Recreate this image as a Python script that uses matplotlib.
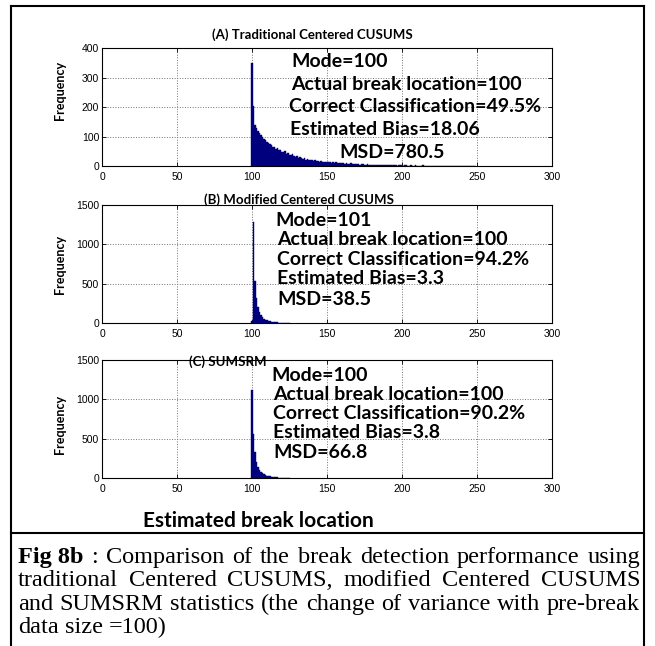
"""Fig 8b: histograms of estimated break location for three statistics."""

import matplotlib

matplotlib.use("Agg")
import matplotlib.pyplot as plt
from matplotlib.lines import Line2D
import numpy as np

W, H = 655, 646
NAVY = "#00007f"
NARROW = ["Lato", "Liberation Sans", "DejaVu Sans"]
SANS = ["Liberation Sans", "DejaVu Sans"]
SERIF = ["Liberation Serif", "DejaVu Serif"]

# counts per integer bin, first bin = 100
BIN_START = 100
COUNTS_A = [
    350, 205, 140, 128, 118, 112, 104, 98, 92, 88,
    82, 78, 74, 70, 66, 63, 58, 60, 53, 55,
    48, 46, 50, 41, 43, 38, 36, 40, 33, 31,
    35, 28, 30, 26, 25, 28, 22, 24, 20, 22,
    19, 18, 20, 16, 17, 15, 18, 14, 15, 13,
    14, 12, 15, 11, 12, 10, 13, 10, 9, 11,
    9, 10, 8, 9, 7, 8, 9, 6, 7, 8,
    6, 7, 5, 6, 7, 5, 4, 6, 5, 4,
    5, 4, 3, 5, 4, 3, 4, 3, 2, 4,
    3, 2, 3, 3, 2, 2, 3, 1, 2, 2,
    2, 1, 2, 2, 1, 1, 2, 1, 1, 2,
    1, 1, 0, 1, 2, 1, 0, 1, 1, 0,
    1, 0, 1, 1, 0, 1, 0, 0, 1, 0,
    0, 1, 0, 0, 1, 0, 0, 1, 0, 0,
    1, 0, 0, 0, 1, 0, 0, 0, 0, 1,
]
COUNTS_B = [30, 1280, 530, 320, 200, 140, 100, 72, 55, 42, 33, 26, 20,
            16, 13, 10, 8, 7, 5, 4, 3, 3, 2, 2, 1, 1]
COUNTS_C = [1120, 560, 330, 200, 140, 100, 75, 58, 45, 36, 30, 25, 20,
            16, 13, 11, 9, 7, 6, 5, 4, 3, 2, 2, 1, 1]

X_TICKS = [0, 50, 100, 150, 200, 250, 300]
Y_TICKS_A = [0, 100, 200, 300, 400]
Y_TICKS_BC = [0, 500, 1000, 1500]

TITLES = ["(A) Traditional Centered CUSUMS", "(B) Modified Centered CUSUMS",
          "(C) SUMSRM"]
STATS_A = ["Mode=100", "Actual break location=100",
           "Correct Classification=49.5%", "Estimated Bias=18.06", "MSD=780.5"]
STATS_B = ["Mode=101", "Actual break location=100",
           "Correct Classification=94.2%", "Estimated Bias=3.3", "MSD=38.5"]
STATS_C = ["Mode=100", "Actual break location=100",
           "Correct Classification=90.2%", "Estimated Bias=3.8", "MSD=66.8"]

CAPTION = [
    [("Fig 8b", True), (":", False), ("Comparison", False), ("of", False),
     ("the", False), ("break", False), ("detection", False),
     ("performance", False), ("using", False)],
    [(w, False) for w in "traditional Centered CUSUMS, modified Centered CUSUMS".split()],
    [(w, False) for w in "and SUMSRM statistics (the change of variance with pre-break".split()],
    [(w, False) for w in "data size =100)".split()],
]


def fx(x):
    return x / W


def fy(y):
    return 1 - y / H


fig = plt.figure(figsize=(W / 100, H / 100), dpi=100)

# panel boxes in pixels: top, bottom (left/right shared)
left, right = 102, 552
panels = [
    (48, 166, COUNTS_A, Y_TICKS_A),
    (205, 323, COUNTS_B, Y_TICKS_BC),
    (360, 478, COUNTS_C, Y_TICKS_BC),
]
for top, bottom, counts, yt in panels:
    ax = fig.add_axes([fx(left), fy(bottom), (right - left) / W, (bottom - top) / H])
    xs = np.arange(len(counts)) + BIN_START
    ax.bar(xs, counts, width=1.0, color=NAVY, edgecolor=NAVY, linewidth=0.3)
    ax.set_xlim(0, 300)
    ax.set_ylim(yt[0], yt[-1])
    ax.set_xticks(X_TICKS)
    ax.set_yticks(yt)
    ax.grid(True, ls=":", color="0.45", lw=0.7)
    ax.set_axisbelow(True)
    ax.tick_params(direction="in", length=3, width=0.6, top=True, right=True,
                   labelsize=7.5, pad=2, colors="black")
    ax.tick_params(axis="x", pad=4)
    for lab in ax.get_xticklabels() + ax.get_yticklabels():
        lab.set_family(SANS)
    for sp in ax.spines.values():
        sp.set_linewidth(0.8)

# titles
title_pos = [(312, 35), (299, 200), (228, 362)]
for t, (x, y) in zip(TITLES, title_pos):
    fig.text(fx(x), fy(y), t, ha="center", va="center", fontsize=9.5,
             fontweight="bold", family=NARROW)

# y labels
for y in (90, 264, 424):
    fig.text(fx(60), fy(y), "Frequency", rotation=90, ha="center", va="center",
             fontsize=9, fontweight="bold", family=NARROW)

# stats text: (x, baseline y)
stat_pos = [
    (STATS_A, [(291, 67), (291, 90), (289, 112), (290, 135), (339, 158)]),
    (STATS_B, [(275, 226), (277, 245), (277, 265), (277, 284), (277, 305)]),
    (STATS_C, [(271, 381), (273, 400), (273, 419), (273, 438), (273, 458)]),
]
for lines, pos in stat_pos:
    for s, (x, y) in zip(lines, pos):
        fig.text(fx(x), fy(y), s, ha="left", va="baseline", fontsize=14,
                 fontweight="bold", family=NARROW)

fig.text(fx(258), fy(527), "Estimated break location", ha="center",
         va="baseline", fontsize=15, fontweight="bold", family=NARROW)

# frame around figure and caption
for xs_, ys_ in [((11, 644), (6, 6)), ((11, 11), (6, 646)), ((644, 644), (6, 646)),
                 ((11, 644), (533, 533))]:
    fig.add_artist(Line2D([fx(v) for v in xs_], [fy(v) for v in ys_],
                          color="black", lw=1.5))

# justified caption
CAP_SIZE = 17.5
renderer = fig.canvas.get_renderer()
x0, x1 = 18, 640
baselines = [563, 586.5, 610, 633]
for i, (words, yb) in enumerate(zip(CAPTION, baselines)):
    texts = [fig.text(0, fy(yb), w, fontsize=CAP_SIZE, family=SERIF, va="baseline",
                      fontweight="bold" if b else "normal") for w, b in words]
    widths = [t.get_window_extent(renderer).width for t in texts]
    if i < len(CAPTION) - 1:
        gap = (x1 - x0 - sum(widths)) / (len(words) - 1)
    else:
        gap = CAP_SIZE * 100 / 72 * 0.25
    x = x0
    for t, w in zip(texts, widths):
        t.set_x(fx(x))
        x += w + gap

fig.savefig("out.png", dpi=100)
